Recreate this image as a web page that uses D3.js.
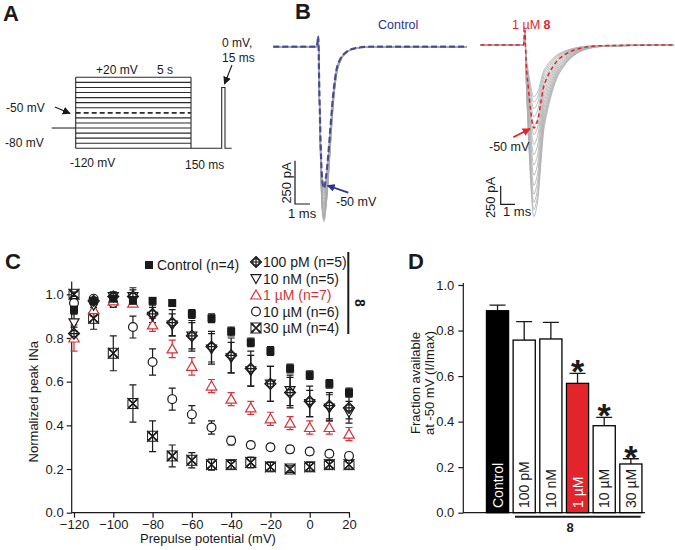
<!DOCTYPE html>
<html><head><meta charset="utf-8">
<script src="https://cdn.jsdelivr.net/npm/d3@7"></script>
<style>
body{margin:0;background:#fff}
svg{display:block;font-family:"Liberation Sans",Arial,Helvetica,sans-serif}
</style>
</head><body>
<svg id="fig" width="675" height="550"></svg>
<script>
// ================= DATA =================
// Panel A: voltage protocol
const protoSteps = [20, 10, 0, -10, -20, -30, -40, -50, -60, -70, -80, -90, -100, -110, -120]; // mV
const protoHold = -80, protoTest = 0, protoRest = -120, protoMarked = -50;
const protoTimes = [-0.5, 0, 5, 5.15, 5.165, 5.2]; // s: hold, prepulse start, prepulse end, test start, test end, end

// Panel B: current traces (template shapes in ms / normalised inward current)
const ctlT     = [-3.0, -0.1, 0, 0.05, 0.11, 0.22, 0.3, 0.38, 0.5, 0.65, 0.8, 1.0, 1.2, 1.5, 1.9, 2.5, 3.5, 9.9];
const ctlShape = [0, 0, 0, 0.2, 0.49, 0.87, 0.97, 1.0, 0.93, 0.78, 0.58, 0.33, 0.17, 0.08, 0.035, 0.01, 0, 0];
const ctlArt   = [0, 0, -60, 0, 0, 0, 0, 0, 0, 0, 0, 0, 0, 0, 0, 0, 0, 0];
const ctlPeaks = [1010, 1000, 995, 985, 975, 960, 945, 930, 915, 900, 880, 860, 845, 830, 815]; // pA
const ctlPeak50 = 817;
const drugT     = [-3.1, -0.1, 0, 0.05, 0.23, 0.4, 0.5, 0.62, 0.75, 0.93, 1.1, 1.28, 1.5, 1.75, 2.2, 2.7, 3.3, 4.1, 5.5, 10.4];
const drugShape = [0, 0, 0, 0.1, 0.51, 0.8, 0.93, 1.0, 0.97, 0.88, 0.7, 0.52, 0.41, 0.32, 0.2, 0.126, 0.07, 0.03, 0.008, 0];
const drugArt   = [0, 0, -200, 0, 0, 0, 0, 0, 0, 0, 0, 0, 0, 0, 0, 0, 0, 0, 0, 0];
const drugPeaks = [2345, 2250, 2150, 2040, 1920, 1780, 1640, 1500, 1360, 1230, 1100, 980, 870, 780, 706]; // pA
const drugPeak50 = 1134;

// Panel C: steady-state inactivation
const prepulse = [-120, -110, -100, -90, -80, -70, -60, -50, -40, -30, -20, -10, 0, 10, 20];
const cControl = [0.93, 0.97, 0.98, 0.97, 0.97, 0.96, 0.91, 0.89, 0.83, 0.78, 0.74, 0.66, 0.63, 0.59, 0.55];
const cControlE= [0.02, 0.02, 0.01, 0.01, 0.01, 0.01, 0.02, 0.02, 0.02, 0.02, 0.02, 0.02, 0.02, 0.02, 0.02];
const c100pM   = [0.82, 0.97, 0.99, 0.99, 0.91, 0.87, 0.81, 0.76, 0.72, 0.66, 0.59, 0.55, 0.51, 0.49, 0.48];
const c100pME  = [0.03, 0.02, 0.02, 0.04, 0.04, 0.06, 0.07, 0.07, 0.08, 0.08, 0.08, 0.07, 0.07, 0.06, 0.05];
const c10nM    = [0.87, 0.95, 0.99, 0.99, 0.90, 0.86, 0.81, 0.75, 0.71, 0.65, 0.59, 0.56, 0.50, 0.48, 0.46];
const c10nME   = [0.04, 0.03, 0.02, 0.03, 0.04, 0.05, 0.06, 0.07, 0.07, 0.07, 0.08, 0.07, 0.06, 0.06, 0.05];
const c1uM     = [0.80, 0.93, 0.97, 0.96, 0.86, 0.75, 0.67, 0.58, 0.52, 0.48, 0.43, 0.41, 0.39, 0.39, 0.36];
const c1uME    = [0.06, 0.03, 0.01, 0.01, 0.03, 0.04, 0.04, 0.03, 0.03, 0.03, 0.03, 0.03, 0.03, 0.03, 0.03];
const c10uM    = [0.96, 0.98, 0.96, 0.85, 0.69, 0.52, 0.45, 0.39, 0.33, 0.31, 0.30, 0.29, 0.28, 0.27, 0.26];
const c10uME   = [0.02, 0.01, 0.02, 0.05, 0.06, 0.05, 0.04, 0.03, 0.02, 0.015, 0.015, 0.015, 0.015, 0.015, 0.015];
const c30uM    = [1.00, 0.89, 0.73, 0.50, 0.35, 0.26, 0.24, 0.22, 0.22, 0.23, 0.21, 0.20, 0.21, 0.22, 0.22];
const c30uME   = [0.01, 0.05, 0.08, 0.085, 0.07, 0.05, 0.035, 0.025, 0.02, 0.025, 0.02, 0.015, 0.02, 0.02, 0.02];
const cLegend  = ["100 pM (n=5)", "10 nM (n=5)", "1 \u00b5M (n=7)", "10 \u00b5M (n=6)", "30 \u00b5M (n=4)"];
const cLegendControl = "Control (n=4)";
const cTicksX = [-120, -100, -80, -60, -40, -20, 0, 20];
const cTicksY = [0, 0.2, 0.4, 0.6, 0.8, 1.0];

// Panel D: fraction available at -50 mV
const dCats = ["Control", "100 pM", "10 nM", "1 \u00b5M", "10 \u00b5M", "30 \u00b5M"];
const dMean = [0.887, 0.758, 0.763, 0.568, 0.382, 0.214];
const dErr  = [0.025, 0.081, 0.073, 0.044, 0.037, 0.023];
const dSig  = [false, false, false, true, true, true];
const dTicksY = [0, 0.2, 0.4, 0.6, 0.8, 1.0];

// ================= DRAWING =================
const NAVY = "#2e3192", RED = "#e3242b", CRED = "#d8323a", INK = "#1a1a1a";
const svg = d3.select("#fig");
const defs = svg.append("defs");
[["arBlack", INK], ["arNavy", NAVY], ["arRed", RED]].forEach(([id, c]) => {
  defs.append("marker").attr("id", id).attr("viewBox", "0 0 10 10")
    .attr("refX", 9).attr("refY", 5).attr("markerWidth", 8).attr("markerHeight", 8)
    .attr("markerUnits", "userSpaceOnUse").attr("orient", "auto")
    .append("path").attr("d", "M0,0L10,5L0,10Z").attr("fill", c);
});
function txt(g, x, y, s, o = {}) {
  const t = g.append("text").attr("x", x).attr("y", y).text(s)
    .attr("font-size", o.size || 12).attr("fill", o.color || INK)
    .attr("text-anchor", o.anchor || "start");
  if (o.weight) t.attr("font-weight", o.weight);
  if (o.rot) t.attr("transform", `rotate(${o.rot},${x},${y})`);
  return t;
}
function arrow(g, x1, y1, x2, y2, c, id, w) {
  g.append("line").attr("x1", x1).attr("y1", y1).attr("x2", x2).attr("y2", y2)
    .attr("stroke", c).attr("stroke-width", w || 1.4).attr("marker-end", `url(#${id})`);
}

// ---------- Panel A ----------
const gA = svg.append("g");
txt(gA, 3, 21, "A", {size: 22, weight: "bold"});
const xA = d3.scaleLinear().domain(protoTimes).range([51.7, 75.7, 191, 221.7, 225, 231.7]);
const yA = d3.scaleLinear().domain([-120, 20]).range([148.3, 77.3]);
const lA = {stroke: "#2a2a2a", w: 1.1};
gA.append("line").attr("x1", xA(protoTimes[0])).attr("x2", xA(0)).attr("y1", yA(protoHold)).attr("y2", yA(protoHold))
  .attr("stroke", lA.stroke).attr("stroke-width", lA.w);
gA.selectAll("line.step").data(protoSteps).join("line").attr("class", "step")
  .attr("x1", xA(0)).attr("x2", xA(5)).attr("y1", d => yA(d)).attr("y2", d => yA(d))
  .attr("stroke", lA.stroke)
  .attr("stroke-width", d => d === protoMarked ? 1.8 : lA.w)
  .attr("stroke-dasharray", d => d === protoMarked ? "5,3" : null);
[0, 5].forEach(t => gA.append("line").attr("x1", xA(t)).attr("x2", xA(t))
  .attr("y1", yA(d3.max(protoSteps))).attr("y2", yA(d3.min(protoSteps)))
  .attr("stroke", lA.stroke).attr("stroke-width", lA.w));
const tailPts = [[5, protoRest], [5.15, protoRest], [5.15, protoTest], [5.165, protoTest], [5.165, protoRest], [5.2, protoRest]];
gA.append("path").attr("d", d3.line().x(d => xA(d[0])).y(d => yA(d[1]))(tailPts))
  .attr("fill", "none").attr("stroke", lA.stroke).attr("stroke-width", lA.w);
txt(gA, 96, 74, "+20 mV");
txt(gA, 157, 74, "5 s");
txt(gA, 6, 112, "-50 mV");
arrow(gA, 55, 107, 70, 113.5, INK, "arBlack", 1.1);
txt(gA, 5, 146.5, "-80 mV");
txt(gA, 70, 167, "-120 mV");
txt(gA, 185, 168.5, "150 ms");
txt(gA, 222, 47, "0 mV,");
txt(gA, 222, 62, "15 ms");
arrow(gA, 232, 65, 224.5, 84, INK, "arBlack", 1.1);

// ---------- Panel B ----------
const gB = svg.append("g");
txt(gB, 295, 19, "B", {size: 22, weight: "bold"});
txt(gB, 378, 29, "Control", {size: 12.5, color: NAVY});
const lblR = txt(gB, 512, 29, "", {size: 12.5, color: RED});
lblR.append("tspan").text("1 \u00b5M ");
lblR.append("tspan").attr("font-weight", "bold").text("8");

function traceLine(xs, ys, T, shape, art, peak) {
  return d3.line().curve(d3.curveMonotoneX).x((d, i) => xs(T[i])).y((d, i) => ys(shape[i] * peak + art[i]))(T);
}
// control
const xB1 = d3.scaleLinear().domain([0, 1]).range([318.3, 333.3]);
const yB1 = d3.scaleLinear().domain([0, 250]).range([46.7, 90]);
const gB1 = gB.append("g");
ctlPeaks.forEach(p => gB1.append("path").attr("d", traceLine(xB1, yB1, ctlT, ctlShape, ctlArt, p))
  .attr("fill", "none").attr("stroke", "#a9a9a9").attr("stroke-width", 1).attr("opacity", 0.85));
gB1.append("path").attr("d", traceLine(xB1, yB1, ctlT, ctlShape, ctlArt, ctlPeak50))
  .attr("fill", "none").attr("stroke", NAVY).attr("stroke-width", 2.2).attr("stroke-dasharray", "6,3").attr("opacity", 0.8);
// scale bar control
gB1.append("path").attr("d", `M295,${yB1(0) + 114}V${yB1(250) + 114}H${295 + (xB1(1) - xB1(0))}`)
  .attr("fill", "none").attr("stroke", INK).attr("stroke-width", 1.2);
txt(gB1, 291, 183, "250 pA", {size: 13, anchor: "middle", rot: -90});
txt(gB1, 288, 218, "1 ms", {size: 13});
arrow(gB1, 348.3, 192.7, 327.5, 185.5, NAVY, "arNavy", 1.8);
txt(gB1, 336, 206, "-50 mV", {size: 12.5});
// drug
const xB2 = d3.scaleLinear().domain([0, 1]).range([525, 539.3]);
const yB2 = d3.scaleLinear().domain([0, 250]).range([45, 63.3]);
const gB2 = gB.append("g");
drugPeaks.forEach(p => gB2.append("path").attr("d", traceLine(xB2, yB2, drugT, drugShape, drugArt, p))
  .attr("fill", "none").attr("stroke", "#b0b0b0").attr("stroke-width", 1).attr("opacity", 0.85));
gB2.append("path").attr("d", traceLine(xB2, yB2, drugT, drugShape, drugArt, drugPeak50))
  .attr("fill", "none").attr("stroke", RED).attr("stroke-width", 1.5).attr("stroke-dasharray", "4,3");
gB2.append("path").attr("d", `M500.7,${yB2(0) + 141}V${yB2(250) + 141}H${500.7 + (xB2(1) - xB2(0))}`)
  .attr("fill", "none").attr("stroke", INK).attr("stroke-width", 1.2);
txt(gB2, 495, 197.5, "250 pA", {size: 13, anchor: "middle", rot: -90});
txt(gB2, 503, 216, "1 ms", {size: 13});
arrow(gB2, 513.3, 137.3, 530, 128.8, RED, "arRed", 1.8);
txt(gB2, 489, 151, "-50 mV", {size: 12.5});

// ---------- Panel C ----------
const gC = svg.append("g");
txt(gC, 5, 269, "C", {size: 22, weight: "bold"});
const xC = d3.scaleLinear().domain([-120, 20]).range([74, 349]);
const yC = d3.scaleLinear().domain([0, 1]).range([512.7, 294.3]);
const axC = gC.append("g").attr("transform", "translate(0,512.7)")
  .call(d3.axisBottom(xC).tickValues(cTicksX).tickSize(5).tickPadding(2).tickSizeOuter(0));
const ayC = gC.append("g").attr("transform", "translate(71.7,0)")
  .call(d3.axisLeft(yC).tickValues(cTicksY).tickFormat(d3.format(".1f")).tickSize(5).tickPadding(3).tickSizeOuter(0));
[axC, ayC].forEach(a => {
  a.select(".domain").remove();
  a.selectAll("line").attr("stroke", INK).attr("stroke-width", 1.2);
  a.selectAll("text").attr("font-size", 13).attr("fill", INK).attr("font-family", null);
});
gC.append("path").attr("d", `M71.7,281.5V512.7H350`).attr("fill", "none").attr("stroke", INK).attr("stroke-width", 1.2);
txt(gC, 38, 401.7, "Normalized peak INa", {size: 13, anchor: "middle", rot: -90});
txt(gC, 208, 543, "Prepulse potential (mV)", {size: 13, anchor: "middle"});

function marker(g, type, x, y, color) {
  const s = g.append("g").attr("transform", `translate(${x},${y})`)
    .attr("fill", "#fff").attr("stroke", color).attr("stroke-width", 1.2);
  if (type === "square") s.append("rect").attr("x", -4).attr("y", -4).attr("width", 8).attr("height", 8).attr("fill", color).attr("stroke", "none");
  if (type === "crossdiamond") {
    s.append("path").attr("d", "M0,-5.5L5.5,0L0,5.5L-5.5,0Z");
    s.append("circle").attr("r", 3.3);
    s.append("path").attr("d", "M0,-5.5V5.5M-5.5,0H5.5").attr("fill", "none");
  }
  if (type === "tridown") s.append("path").attr("d", "M-5,-3.8L5,-3.8L0,5Z");
  if (type === "triup") s.append("path").attr("d", "M0,-5L5.2,4L-5.2,4Z");
  if (type === "circle") s.append("circle").attr("r", 4.4);
  if (type === "xstar") {
    s.append("path").attr("d", "M-4,-5L4,-5L-4,5L4,5Z").attr("fill", "none").attr("stroke-width", 1);
    s.append("path").attr("d", "M-5,-4L-5,4L5,-4L5,4Z").attr("fill", "none").attr("stroke-width", 1);
    s.append("path").attr("d", "M-5.5,-5.5L5.5,5.5M5.5,-5.5L-5.5,5.5").attr("fill", "none").attr("stroke-width", 1.3);
  }
}
const cSeries = [
  {v: c30uM, e: c30uME, m: "xstar", c: INK},
  {v: c10uM, e: c10uME, m: "circle", c: INK},
  {v: c1uM, e: c1uME, m: "triup", c: CRED},
  {v: c10nM, e: c10nME, m: "tridown", c: INK},
  {v: c100pM, e: c100pME, m: "crossdiamond", c: INK},
  {v: cControl, e: cControlE, m: "square", c: INK}
];
const gErr = gC.append("g"), gMk = gC.append("g");
cSeries.forEach(s => {
  prepulse.forEach((p, i) => {
    const x = xC(p), y1 = yC(s.v[i] - s.e[i]), y2 = yC(s.v[i] + s.e[i]);
    gErr.append("path").attr("d", `M${x},${y1}V${y2}M${x - 3.5},${y1}H${x + 3.5}M${x - 3.5},${y2}H${x + 3.5}`)
      .attr("fill", "none").attr("stroke", s.c).attr("stroke-width", 1.2);
  });
});
cSeries.forEach(s => prepulse.forEach((p, i) => marker(gMk, s.m, xC(p), yC(s.v[i]), s.c)));
// legend
const gLeg = gC.append("g");
marker(gLeg, "square", 149, 265, INK);
txt(gLeg, 157, 270, cLegendControl, {size: 14});
const legMk = ["crossdiamond", "tridown", "triup", "circle", "xstar"];
cLegend.forEach((s, i) => {
  const y = 262 + i * 16.5;
  const col = i === 2 ? CRED : INK;
  marker(gLeg, legMk[i], 256, y, col);
  txt(gLeg, 263, y + 5, s, {size: 14, color: col});
});
gLeg.append("line").attr("x1", 348.3).attr("x2", 348.3).attr("y1", 252).attr("y2", 334).attr("stroke", INK).attr("stroke-width", 2);
txt(gLeg, 355, 303, "8", {size: 14, weight: "bold", anchor: "middle", rot: 90});

// ---------- Panel D ----------
const gD = svg.append("g");
txt(gD, 408, 269, "D", {size: 22, weight: "bold"});
const xD = d3.scaleBand().domain(dCats).range([484.2, 644.2]).paddingInner(0.17).paddingOuter(0.085);
const yD = d3.scaleLinear().domain([0, 1]).range([512.7, 285]);
const ayD = gD.append("g").attr("transform", "translate(463.3,0)")
  .call(d3.axisLeft(yD).tickValues(dTicksY).tickFormat(d3.format(".1f")).tickSize(5).tickPadding(4).tickSizeOuter(0));
ayD.select(".domain").remove();
ayD.selectAll("line").attr("stroke", INK).attr("stroke-width", 1.2);
ayD.selectAll("text").attr("font-size", 13).attr("fill", INK).attr("font-family", null);
gD.append("path").attr("d", "M463.3,283V512.7H645").attr("fill", "none").attr("stroke", INK).attr("stroke-width", 1.2);
txt(gD, 420, 383, "Fraction available", {size: 13, anchor: "middle", rot: -90});
txt(gD, 433.5, 383, "at -50 mV (I/Imax)", {size: 13, anchor: "middle", rot: -90});
const fills = ["#000", "#fff", "#fff", RED, "#fff", "#fff"];
dCats.forEach((c, i) => {
  const x = xD(c), w = xD.bandwidth(), cx = x + w / 2;
  gD.append("path").attr("d", `M${cx},${yD(dMean[i])}V${yD(dMean[i] + dErr[i])}M${cx - 8},${yD(dMean[i] + dErr[i])}H${cx + 8}`)
    .attr("fill", "none").attr("stroke", INK).attr("stroke-width", 1.3);
  gD.append("rect").attr("x", x).attr("y", yD(dMean[i])).attr("width", w).attr("height", yD(0) - yD(dMean[i]))
    .attr("fill", fills[i]).attr("stroke", "#000").attr("stroke-width", 1.3);
  txt(gD, cx + 5, 508, c, {size: 14, rot: -90, color: (i === 0 || i === 3) ? "#fff" : INK});
  if (dSig[i]) txt(gD, cx, yD(dMean[i] + dErr[i]) + 10, "*", {size: 34, weight: "bold", anchor: "middle"});
});
gD.append("line").attr("x1", 515).attr("x2", 640.7).attr("y1", 516.7).attr("y2", 516.7).attr("stroke", INK).attr("stroke-width", 2);
txt(gD, 570, 532, "8", {size: 13, weight: "bold", anchor: "middle"});
</script>
</body></html>
